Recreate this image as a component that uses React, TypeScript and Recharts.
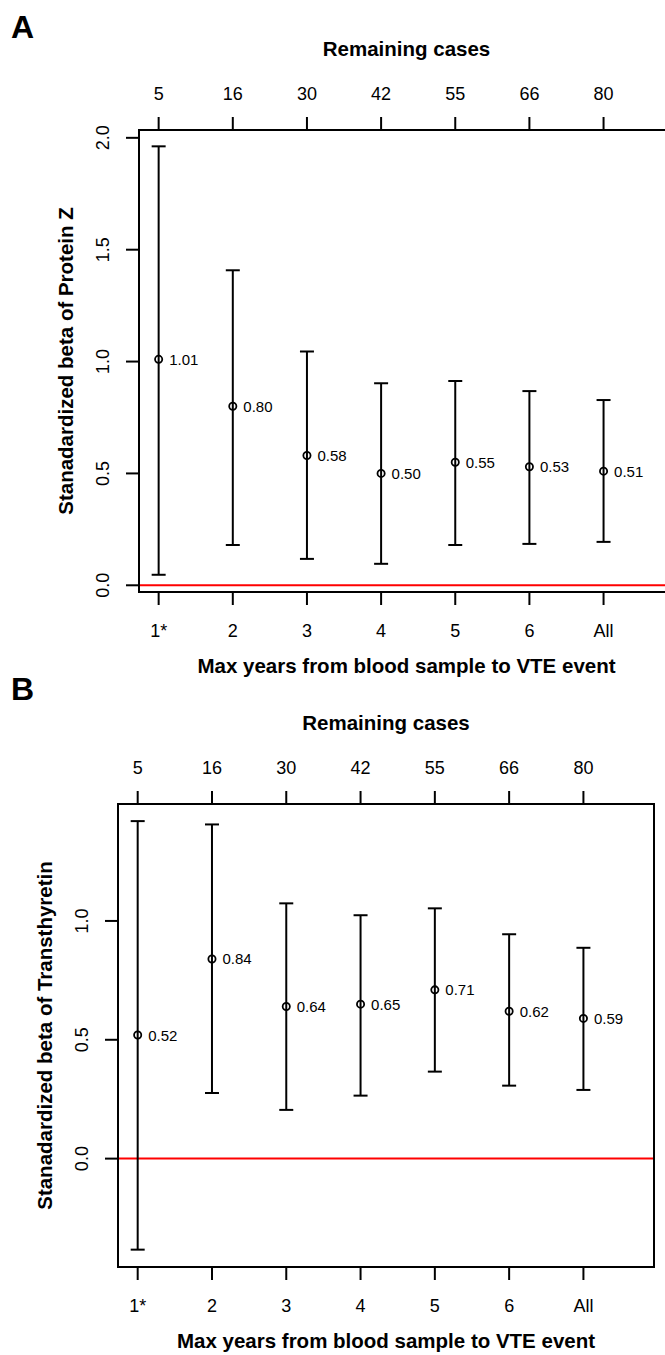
import React from 'react';
import { ScatterChart, Scatter, XAxis, YAxis, ErrorBar, ReferenceLine } from 'recharts';

const categories = ['1*', '2', '3', '4', '5', '6', 'All'];
const remainingCases = [5, 16, 30, 42, 55, 66, 80];
const positions = [1, 2, 3, 4, 5, 6, 7];

// panel A: Protein Z
const proteinZBeta = [1.01, 0.8, 0.58, 0.5, 0.55, 0.53, 0.51];
const proteinZLower = [0.047, 0.18, 0.118, 0.096, 0.18, 0.185, 0.194];
const proteinZUpper = [1.962, 1.408, 1.045, 0.903, 0.913, 0.868, 0.828];

// panel B: Transthyretin
const transthyretinBeta = [0.52, 0.84, 0.64, 0.65, 0.71, 0.62, 0.59];
const transthyretinLower = [-0.383, 0.276, 0.205, 0.265, 0.366, 0.307, 0.289];
const transthyretinUpper = [1.42, 1.406, 1.074, 1.024, 1.053, 0.944, 0.887];

const yTicksA = [0, 0.5, 1, 1.5, 2];
const yTicksB = [0, 0.5, 1];

const FONT = '"Liberation Sans", Arial, Helvetica, sans-serif';
const TITLE_SIZE = 20.5;
const X_DOMAIN: [number, number] = [0.735, 7.95];

const buildRows = (beta: number[], lower: number[], upper: number[]) =>
	positions.map((x, i) => ({
		x,
		beta: beta[i],
		err: [beta[i] - lower[i], upper[i] - beta[i]],
	}));

const rowsA = buildRows(proteinZBeta, proteinZLower, proteinZUpper);
const rowsB = buildRows(transthyretinBeta, transthyretinLower, transthyretinUpper);

type Box = { width: number; height: number; left: number; top: number; right: number; bottom: number };

const BottomTick = (props: any) => {
	const { x, y, payload } = props;
	return (
		<text x={x} y={y + 33} textAnchor='middle' fontSize={18} fontFamily={FONT} fill='#000'>
			{categories[payload.value - 1]}
		</text>
	);
};

const TopTick = (props: any) => {
	const { x, y, payload } = props;
	return (
		<text x={x} y={y - 18} textAnchor='middle' fontSize={18} fontFamily={FONT} fill='#000'>
			{remainingCases[payload.value - 1]}
		</text>
	);
};

const LeftTick = (props: any) => {
	const { x, y, payload } = props;
	const bx = x - 18;
	return (
		<text
			x={bx}
			y={y}
			transform={`rotate(-90 ${bx} ${y})`}
			textAnchor='middle'
			fontSize={18}
			fontFamily={FONT}
			fill='#000'
		>
			{Number(payload.value).toFixed(1)}
		</text>
	);
};

const PointShape = (props: any) => {
	const { cx, cy, payload } = props;
	return (
		<g>
			<circle cx={cx} cy={cy} r={3.6} fill='none' stroke='#000' strokeWidth={1.8} />
			<text x={cx + 10.5} y={cy + 5.5} fontSize={15} fontFamily={FONT} fill='#000'>
				{payload.beta.toFixed(2)}
			</text>
		</g>
	);
};

// the top axis only needs a series bound to it so it gets a scale
const EmptyShape = () => <g />;

const lineStyle = { stroke: '#000', strokeWidth: 2, strokeLinecap: 'square' as const };

type PanelProps = {
	letter: string;
	letterY: number;
	rows: typeof rowsA;
	box: Box;
	yDomain: [number, number];
	yTicks: number[];
	yTitle: string;
};

const Panel = ({ letter, letterY, rows, box, yDomain, yTicks, yTitle }: PanelProps) => {
	const midX = (box.left + box.right) / 2;
	const midY = (box.top + box.bottom) / 2;
	const titleX = box.left - 66;
	return (
		<ScatterChart
			width={box.width}
			height={box.height}
			margin={{ top: 0, left: 0, right: box.width - box.right, bottom: 0 }}
		>
			<XAxis
				xAxisId='bottom'
				type='number'
				dataKey='x'
				domain={X_DOMAIN}
				ticks={positions}
				height={box.height - box.bottom}
				tickSize={12}
				tickMargin={0}
				axisLine={lineStyle}
				tickLine={lineStyle}
				tick={<BottomTick />}
				label={() => (
					<text x={midX} y={box.bottom + 81} textAnchor='middle' fontSize={TITLE_SIZE} fontWeight='bold' fontFamily={FONT} fill='#000'>
						Max years from blood sample to VTE event
					</text>
				)}
			/>
			<XAxis
				xAxisId='top'
				orientation='top'
				type='number'
				dataKey='x'
				domain={X_DOMAIN}
				ticks={positions}
				height={box.top}
				tickSize={12}
				tickMargin={0}
				axisLine={lineStyle}
				tickLine={lineStyle}
				tick={<TopTick />}
				label={() => (
					<g>
						<text x={11} y={letterY} fontSize={32} fontWeight='bold' fontFamily={FONT} fill='#000'>
							{letter}
						</text>
						<text x={midX} y={box.top - 74} textAnchor='middle' fontSize={TITLE_SIZE} fontWeight='bold' fontFamily={FONT} fill='#000'>
							Remaining cases
						</text>
					</g>
				)}
			/>
			<YAxis
				yAxisId='left'
				type='number'
				dataKey='beta'
				domain={yDomain}
				ticks={yTicks}
				width={box.left}
				tickSize={12}
				tickMargin={0}
				axisLine={lineStyle}
				tickLine={lineStyle}
				tick={<LeftTick />}
				label={() => (
					<text
						x={titleX}
						y={midY}
						transform={`rotate(-90 ${titleX} ${midY})`}
						textAnchor='middle'
						fontSize={TITLE_SIZE}
						fontWeight='bold'
						fontFamily={FONT}
						fill='#000'
					>
						{yTitle}
					</text>
				)}
			/>
			<ReferenceLine xAxisId='bottom' yAxisId='left' y={0} stroke='#ff0000' strokeWidth={2} />
			<ReferenceLine
				xAxisId='bottom'
				yAxisId='left'
				x={X_DOMAIN[1]}
				stroke='#000'
				strokeWidth={2}
				ifOverflow='visible'
			/>
			<Scatter
				xAxisId='top'
				yAxisId='left'
				data={rows}
				shape={<EmptyShape />}
				legendType='none'
				isAnimationActive={false}
			/>
			<Scatter
				xAxisId='bottom'
				yAxisId='left'
				data={rows}
				shape={<PointShape />}
				isAnimationActive={false}
			>
				<ErrorBar dataKey='err' direction='y' width={7} stroke='#000' strokeWidth={2} isAnimationActive={false} />
			</Scatter>
		</ScatterChart>
	);
};

const App = () => {
	return (
		<div
			style={{
				position: 'absolute',
				left: 0,
				top: 0,
				width: 665,
				height: 1355,
				overflow: 'hidden',
				background: '#fff',
			}}
		>
			<div style={{ position: 'absolute', left: 0, top: 0 }}>
				<Panel
					letter='A'
					letterY={38}
					rows={rowsA}
					box={{ width: 700, height: 690, left: 139, top: 130, right: 674, bottom: 592 }}
					yDomain={[-0.03, 2.035]}
					yTicks={yTicksA}
					yTitle='Stanadardized beta of Protein Z'
				/>
			</div>
			<div style={{ position: 'absolute', left: 0, top: 650 }}>
				<Panel
					letter='B'
					letterY={50}
					rows={rowsB}
					box={{ width: 665, height: 705, left: 118, top: 154, right: 654, bottom: 617 }}
					yDomain={[-0.456, 1.492]}
					yTicks={yTicksB}
					yTitle='Stanadardized beta of Transthyretin'
				/>
			</div>
		</div>
	);
};

export default App;
